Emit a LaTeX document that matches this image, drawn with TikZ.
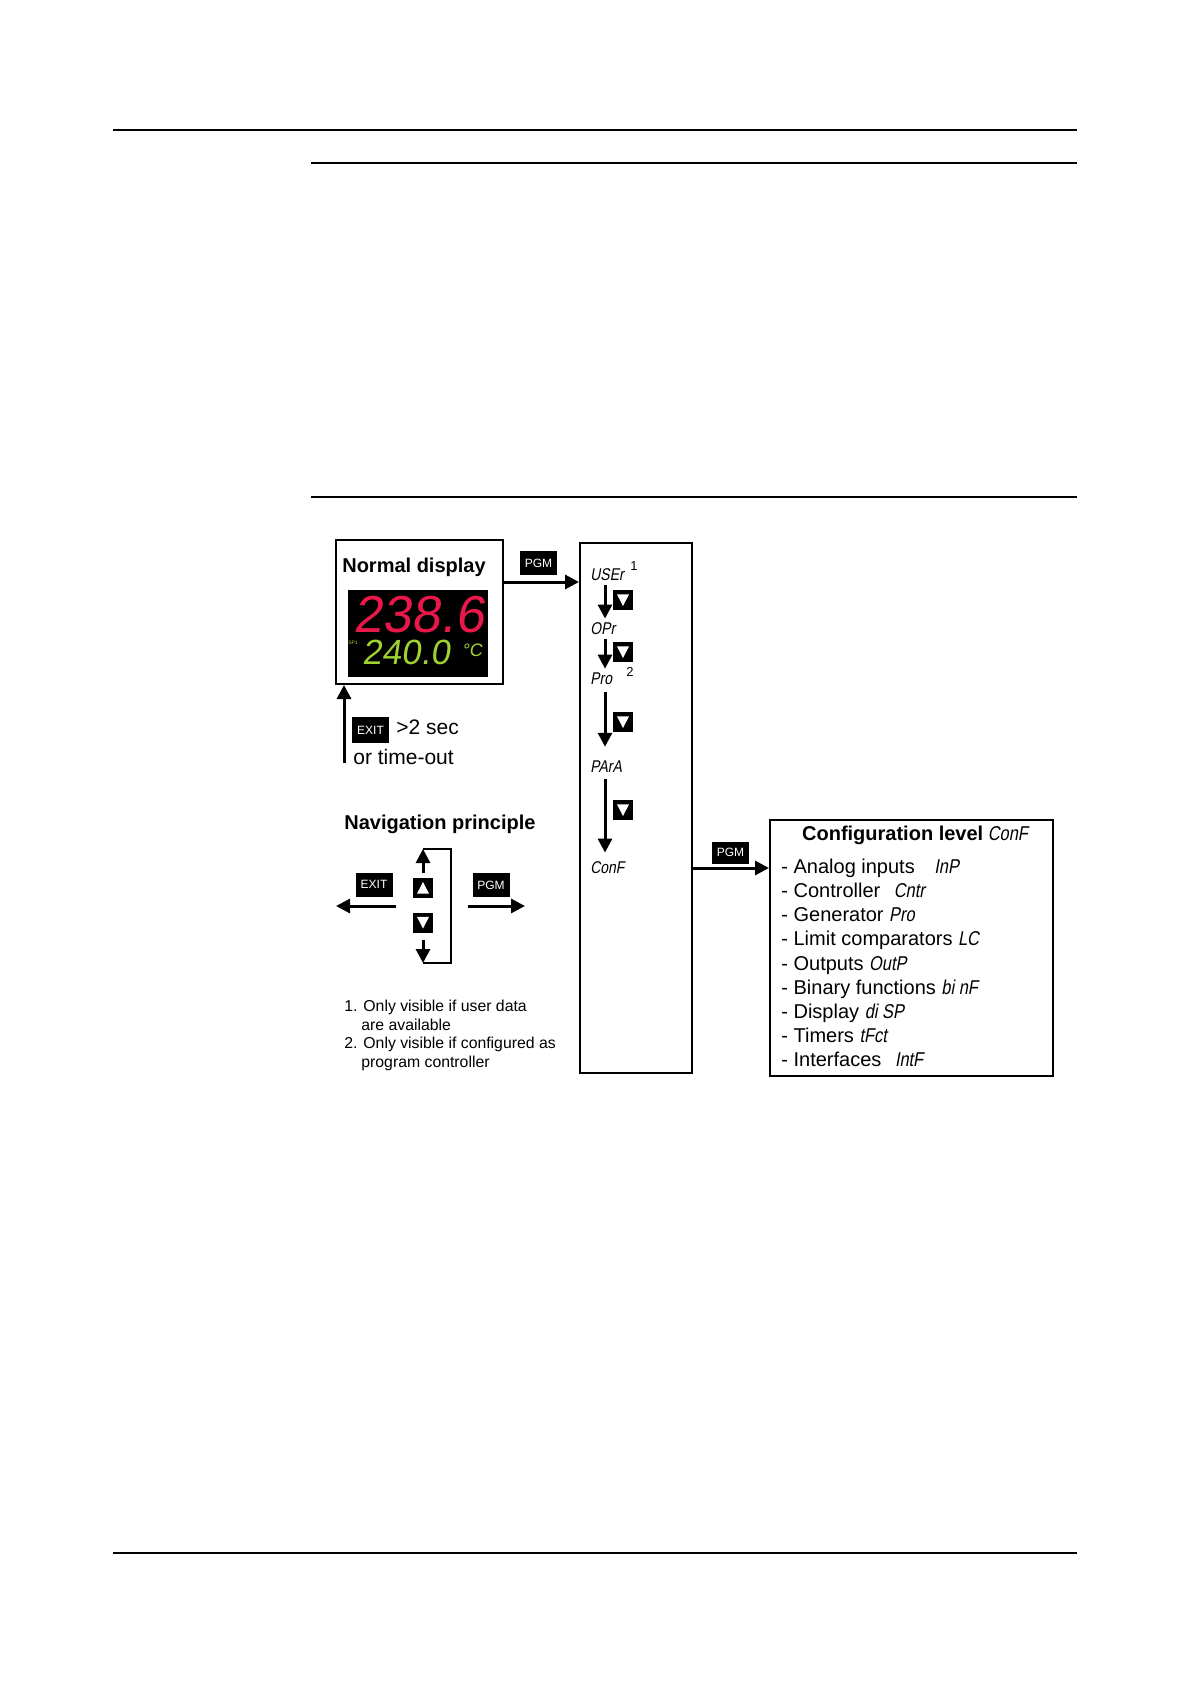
\documentclass[tikz,border=0pt]{standalone}
\usepackage{fontspec}
\setmainfont{Liberation Sans}
\newfontfamily\seg[FakeSlant=0.18,FakeStretch=0.82]{Liberation Sans}
\newfontfamily\ledfont[FakeSlant=0.15]{Liberation Sans}
\usetikzlibrary{arrows.meta,calc}
\definecolor{ledred}{RGB}{232,24,74}
\definecolor{ledgreen}{RGB}{160,210,50}
\begin{document}
\begin{tikzpicture}[x=0.5pt,y=-0.5pt,
  arr/.style={line width=1.5pt,-{Triangle[length=7pt,width=7pt]}},
  frame/.style={draw,line width=1pt,inner sep=0pt},
  keybox/.style={fill=black,text=white,font=\fontsize{6}{7}\selectfont,inner sep=0pt,minimum width=18.5pt,minimum height=12pt},
  keydown/.style={fill=black,inner sep=0pt,minimum size=10pt,
    path picture={\fill[white] ([xshift=2pt,yshift=-2.2pt]path picture bounding box.north west) -- ([xshift=-2pt,yshift=-2.2pt]path picture bounding box.north east) -- ([yshift=2pt]path picture bounding box.south) -- cycle;}},
  keyup/.style={fill=black,inner sep=0pt,minimum size=10pt,
    path picture={\fill[white] ([xshift=2pt,yshift=2.2pt]path picture bounding box.south west) -- ([xshift=-2pt,yshift=2.2pt]path picture bounding box.south east) -- ([yshift=-2pt]path picture bounding box.north) -- cycle;}},
  segtxt/.style={font=\seg\fontsize{8.5}{10}\selectfont,inner xsep=0pt,inner ysep=2pt,anchor=west},
  supnum/.style={font=\fontsize{6.5}{7}\selectfont,inner sep=0pt},
  titletxt/.style={font=\bfseries\fontsize{10}{12}\selectfont,inner sep=0pt},
  bodytxt/.style={font=\fontsize{10}{12}\selectfont,inner sep=0pt,anchor=west,text height=7.3pt,text depth=2.1pt},
  bigtxt/.style={font=\fontsize{10.5}{13}\selectfont,inner sep=0pt,anchor=west,text height=7.6pt,text depth=2.2pt},
  notetxt/.style={font=\fontsize{7.9}{9}\selectfont,inner sep=0pt,anchor=west,text height=5.8pt,text depth=1.7pt}
]
\useasboundingbox (0,0) rectangle (1190,1684);
\fill[white] (0,0) rectangle (1190,1684);

% page rules
\draw[line width=0.6pt] (113,130) -- (1077,130);
\draw[line width=1pt] (311,163) -- (1077,163);
\draw[line width=1pt] (311,497) -- (1077,497);
\draw[line width=0.6pt] (113,1553) -- (1077,1553);

% Normal display
\node[frame,anchor=north west,minimum width=83.5pt,minimum height=72pt] (nd) at (335,539) {};
\node[titletxt] (ndt) at (414,567) {Normal display};
\node[fill=black,anchor=north west,minimum width=70pt,minimum height=43.5pt,inner sep=0pt] (led) at (348,590) {};
\node[text=ledred,font=\ledfont\fontsize{26}{26}\selectfont,inner sep=0pt,text height=18.6pt,text depth=0pt] (red) at (419,614) {238.6};
\node[text=ledgreen,font=\ledfont\fontsize{17.5}{18}\selectfont,inner sep=0pt,text height=12.5pt,text depth=0pt] (grn) at (406,652) {240.0};
\node[text=ledgreen,font=\ledfont\fontsize{9}{9}\selectfont,inner sep=0pt,text height=6.5pt,text depth=0pt] (degc) at (472,650) {°C};
\node[text=ledgreen,font=\fontsize{2.5}{3}\selectfont,inner sep=0pt] (sp1) at (353,643) {SP1};

% PGM to menu column
\node[keybox] (pgm1) at (538.5,563) {PGM};
\node[frame,anchor=north west,minimum width=56pt,minimum height=265pt] (col) at (579,542) {};
\draw[arr] ([yshift=-21.5pt]nd.north east) -- ([yshift=-20pt]col.north west);

% return arrow
\coordinate (upstart) at (344,763);
\draw[arr] (upstart) -- (upstart |- nd.south);
\node[keybox,minimum height=13pt] (exit1) at (370.5,730) {EXIT};
\node[bigtxt] (sec) at (396,729) {>2 sec};
\node[bigtxt] (tout) at (353,759) {or time-out};

% menu items
\node[segtxt] (usr) at (590,575) {USEr};
\node[supnum] (s1) at (634,566) {1};
\node[segtxt] (opr) at (590,629) {OPr};
\node[segtxt] (pro) at (590,679) {Pro};
\node[supnum] (s2) at (630,672) {2};
\node[segtxt] (para) at (590,767) {PArA};
\node[segtxt] (conf) at (590,868) {ConF};
\coordinate (ax) at (605,0);
\draw[arr] (usr.south -| ax) -- (opr.north -| ax);
\draw[arr] (opr.south -| ax) -- (pro.north -| ax);
\draw[arr,shorten <=1.5pt,shorten >=5pt] (pro.south -| ax) -- (para.north -| ax);
\draw[arr,shorten <=1pt,shorten >=2.5pt] (para.south -| ax) -- (conf.north -| ax);
\node[keydown] (k1) at (623,600) {};
\node[keydown] (k2) at (623,652) {};
\node[keydown] (k3) at (623,722) {};
\node[keydown] (k4) at (623,810) {};

% configuration level
\node[frame,anchor=north west,minimum width=141.5pt,minimum height=128pt] (cfg) at (769,819) {};
\node[keybox,minimum height=11pt] (pgm2) at (730.5,852.5) {PGM};
\draw[arr] (col.east |- conf) -- (cfg.west |- conf);
\node[titletxt] (cfgt) at (915,835) {Configuration level{\mdseries\seg\ ConF}};
\node[bodytxt] (i1) at (781,868) {- Analog inputs\hspace{7pt} {\seg InP}};
\node[bodytxt] (i2) at (781,892) {- Controller\hspace{4pt} {\seg Cntr}};
\node[bodytxt] (i3) at (781,916.5) {- Generator {\seg Pro}};
\node[bodytxt] (i4) at (781,940.5) {- Limit comparators {\seg LC}};
\node[bodytxt] (i5) at (781,965) {- Outputs {\seg OutP}};
\node[bodytxt] (i6) at (781,989) {- Binary functions {\seg bi nF}};
\node[bodytxt] (i7) at (781,1013) {- Display {\seg di SP}};
\node[bodytxt] (i8) at (781,1037) {- Timers {\seg tFct}};
\node[bodytxt] (i9) at (781,1061) {- Interfaces\hspace{4pt} {\seg IntF}};

% navigation principle
\node[titletxt,anchor=west] (navt) at (344,824) {Navigation principle};
\node[keyup] (upk) at (423,888) {};
\node[keydown] (dnk) at (423,922.5) {};
\coordinate (bt) at (423,849);
\coordinate (bb) at (423,963);
\draw[line width=1pt] (bt) -- ++(28,0) |- (bb);
\draw[arr] ([yshift=2.5pt]upk.north) -- (bt);
\draw[arr] ([yshift=-3.5pt]dnk.south) -- (bb);
\node[keybox] (exit2) at (374,884.5) {EXIT};
\node[keybox] (pgm3) at (491,885) {PGM};
\coordinate (exs) at (396,906);
\coordinate (exe) at (336,906);
\coordinate (pgs) at (468,906);
\coordinate (pge) at (525,906);
\draw[arr] (exs) -- (exe);
\draw[arr] (pgs) -- (pge);

% footnotes
\node[notetxt] (n1) at (344,1007) {1. Only visible if user data};
\node[notetxt] (n1b) at (361,1026) {are available};
\node[notetxt] (n2) at (344,1044) {2. Only visible if configured as};
\node[notetxt] (n2b) at (361,1063) {program controller};
\end{tikzpicture}
\end{document}
